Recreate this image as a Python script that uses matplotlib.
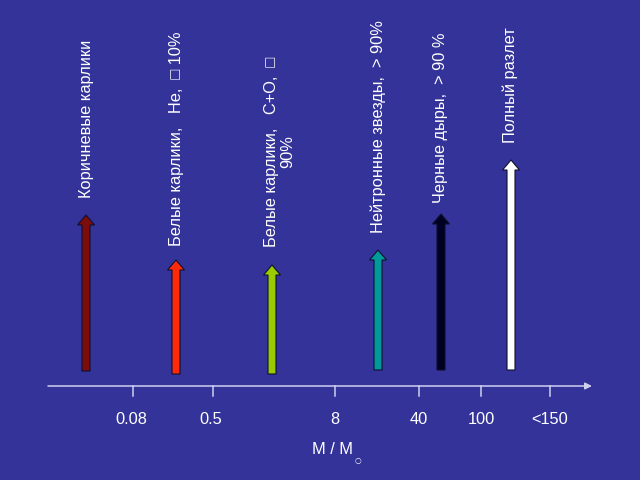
import matplotlib
matplotlib.use("Agg")
import matplotlib.pyplot as plt

plt.rcParams['font.family'] = ['Liberation Sans', 'DejaVu Sans']

# Data
tick_labels = ["0.08", "0.5", "8", "40", "100", "<150"]
categories = [
    "Коричневые карлики",
    "Белые карлики,   He,  \u25a1 10%",
    "Белые карлики,   C+O,  \u25a1\n90%",
    "Нейтронные звезды,  > 90%",
    "Черные дыры,  > 90 %",
    "Полный разлет",
]
arrow_heights = [156, 114, 109, 120, 156, 210]
arrow_colors = ["#7d0c0c", "#ff2a0a", "#99cc00", "#009a9a", "#000022", "#ffffff"]

# Layout (pixel-like data coordinates)
tick_pos = [133, 213, 335, 419, 481, 550]
label_off = [-2, -2, 0, 0, 0, 0]
arrow_x = [86, 176, 272, 378, 441, 511]
arrow_base = [480 - 371, 480 - 374, 480 - 374, 480 - 370, 480 - 370, 480 - 370]
label_x = [87, 176, 280, 378, 440, 510]
label_y = [480 - 198, 480 - 246, 480 - 247, 480 - 233, 480 - 203, 480 - 143]

bg = "#333399"
axis_col = "#d0d0f0"
fs = 11.8

fig = plt.figure(figsize=(6.4, 4.8), dpi=100, facecolor=bg)
ax = fig.add_axes([0, 0, 1, 1])
ax.set_facecolor(bg)
ax.set_xlim(0, 640)
ax.set_ylim(0, 480)
ax.axis('off')

axis_y = 480 - 386
ax.annotate("", xy=(592, axis_y), xytext=(48, axis_y),
            arrowprops=dict(arrowstyle="-|>", color=axis_col, lw=1.1,
                            mutation_scale=10, shrinkA=0, shrinkB=0))
for tp, tl, off in zip(tick_pos, tick_labels, label_off):
    ax.plot([tp, tp], [axis_y, axis_y - 10], color=axis_col, lw=1.1)
    ax.text(tp + off, 480 - 419, tl, color="white", fontsize=fs, ha="center", va="center")

ax.text(333, 480 - 450, "M / M", color="white", fontsize=fs,
        ha="center", va="center")
ax.text(358, 480 - 461, "\u25cb", color="white", fontsize=5.5,
        ha="center", va="center", family="DejaVu Sans")

for x, b, h, c in zip(arrow_x, arrow_base, arrow_heights, arrow_colors):
    ax.arrow(x, b, 0, h, width=8, head_width=17, head_length=10,
             length_includes_head=True, fc=c, ec="#101030", lw=0.8, zorder=3)

for x, y, t in zip(label_x, label_y, categories):
    ax.text(x, y, t, rotation=90, color="white", fontsize=fs,
            ha="center", va="bottom", linespacing=1.1)

fig.savefig("out.png", dpi=100, facecolor=bg)
